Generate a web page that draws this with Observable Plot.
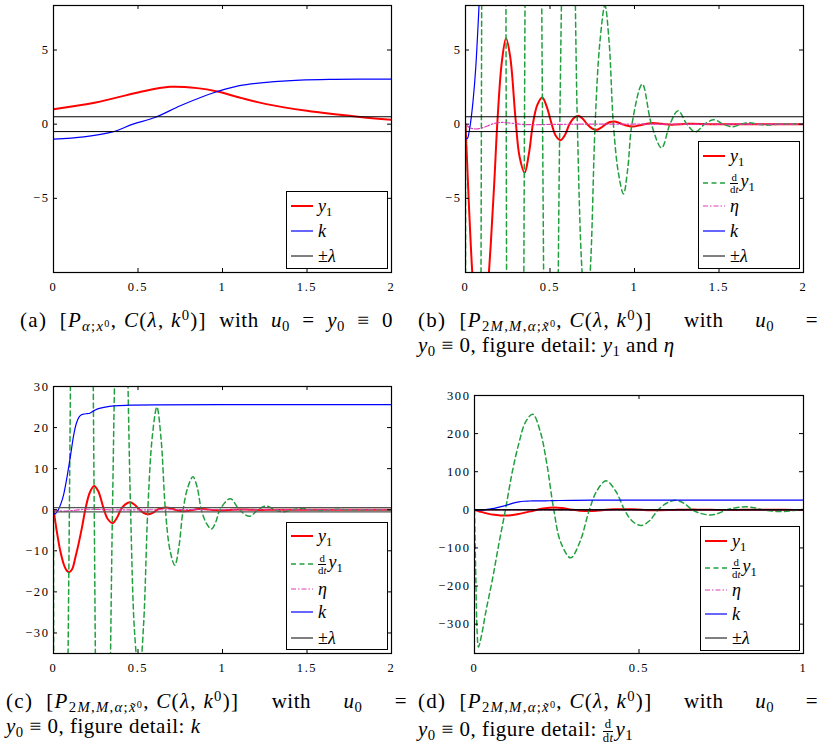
<!DOCTYPE html>
<html><head><meta charset="utf-8">
<script src="https://cdn.jsdelivr.net/npm/d3@7"></script>
<script src="https://cdn.jsdelivr.net/npm/@observablehq/plot@0.6"></script>
<style>
body{margin:0;background:#fff;}
#fig{position:relative;width:824px;height:748px;background:#fff;font-family:"Liberation Serif",serif;color:#000;overflow:hidden}
.panel{position:absolute}
.panel svg text{font-family:"Liberation Serif",serif !important;}
.cap{position:absolute;font-size:21px;line-height:24px;white-space:nowrap;letter-spacing:0.5px}
.just{text-align:justify;text-align-last:justify;white-space:normal}
.m{display:inline-block;white-space:nowrap;letter-spacing:1.3px}
.leg{position:absolute;border:1.3px solid #000;background:#fff;box-sizing:border-box}
.row{position:absolute;left:0;height:18px;line-height:18px;display:flex;align-items:center;font-size:18px;white-space:nowrap}
.row svg{margin-left:4px;margin-right:5px}
sub,sup{font-size:0.7em;line-height:0;position:relative;vertical-align:baseline;font-style:normal}
sub{top:0.3em} sup{top:-0.45em}
.frac{display:inline-flex;flex-direction:column;vertical-align:middle;font-size:0.6em;text-align:center;line-height:1;margin-right:2px}
.frac>span:first-child{border-bottom:1px solid #000}
</style>
</head><body><div id="fig"></div>
<script>
// ---------- data ----------
const lambdaLevels = [-0.5, 0.5];

// panel (a)
const aY1T = [0, 0.25, 0.5, 0.69, 0.85, 0.97, 1.1, 1.26, 1.5, 1.8, 2.0];
const aY1V = [1.01, 1.46, 2.14, 2.52, 2.43, 2.2, 1.8, 1.35, 0.9, 0.5, 0.29];
const aKT = [0, 0.18, 0.35, 0.47, 0.6, 0.75, 0.87, 0.97, 1.1, 1.26, 1.46, 1.66, 2.0];
const aKV = [-1.01, -0.86, -0.52, 0, 0.45, 1.24, 1.8, 2.2, 2.6, 2.82, 2.97, 3.02, 3.04];

// panels (b), (c), (d): same trajectories
const y1T = [0, 0.01, 0.02, 0.04, 0.06, 0.078, 0.093, 0.11, 0.13, 0.15, 0.17, 0.19, 0.215, 0.24, 0.265, 0.295, 0.32, 0.35, 0.375, 0.40, 0.425, 0.454, 0.48, 0.51, 0.535, 0.563, 0.59, 0.615, 0.64, 0.667, 0.695, 0.72, 0.75, 0.776, 0.80, 0.83, 0.855, 0.88, 0.91, 0.94, 0.99, 1.04, 1.1, 1.16, 1.22, 1.32, 1.45, 1.6, 2.0];
const y1V = [0, -2.7, -5.4, -10, -13.2, -14.8, -15.2, -14.5, -11.5, -8, -4, 0.4, 4.2, 5.8, 4.5, 0.5, -2.2, -3.27, -2, 0.1, 1.3, 1.8, 1.2, 0, -0.8, -1.08, -0.7, 0, 0.4, 0.56, 0.35, 0, -0.3, -0.38, -0.25, 0, 0.15, 0.18, 0.08, -0.05, -0.16, -0.05, 0.07, 0.02, -0.04, 0.02, 0, 0, 0];

const dy1T = [0, 0.004, 0.008, 0.012, 0.02, 0.035, 0.055, 0.075, 0.094, 0.115, 0.135, 0.155, 0.177, 0.2, 0.22, 0.241, 0.262, 0.292, 0.32, 0.349, 0.372, 0.40, 0.43, 0.456, 0.48, 0.507, 0.533, 0.558, 0.585, 0.612, 0.637, 0.662, 0.69, 0.718, 0.742, 0.767, 0.795, 0.825, 0.85, 0.875, 0.905, 0.935, 0.96, 0.985, 1.046, 1.1, 1.16, 1.21, 1.258, 1.31, 1.36, 1.415, 1.47, 1.525, 1.58, 1.63, 1.68, 1.73, 1.79, 1.85, 1.92, 2.0];
const dy1V = [0, -180, -320, -360, -335, -265, -180, -85, 0, 100, 175, 230, 251, 205, 120, 0, -85, -126, -85, 0, 50, 76, 48, 0, -30, -41, -28, 0, 18, 25, 17, 0, -10, -13.5, -9, 0, 5.5, 8, 5.5, 0, -3.3, -4.7, -3, 0, 2.7, 0, -1.6, 0, 0.9, 0, -0.52, 0, 0.3, 0, -0.18, 0, 0.1, 0, -0.05, 0, 0.02, 0];

const etaT = [0, 0.02, 0.05, 0.09, 0.13, 0.17, 0.21, 0.26, 0.32, 0.4, 0.5, 0.7, 1.0, 2.0];
const etaV = [0, -0.2, -0.32, -0.28, -0.12, 0.05, 0.12, 0.08, 0, -0.04, -0.02, 0, 0, 0];

const kT = [0, 0.012, 0.02, 0.03, 0.045, 0.06, 0.081, 0.1, 0.12, 0.135, 0.15, 0.165, 0.18, 0.2, 0.215, 0.235, 0.258, 0.298, 0.357, 0.456, 0.6, 1.0, 2.0];
const kV = [-1, -0.95, -0.6, 0.1, 1.6, 3.7, 8.2, 13, 18.3, 21, 22.5, 23.1, 23.3, 23.4, 23.5, 24, 24.5, 24.9, 25.3, 25.45, 25.55, 25.6, 25.6];

// ticks
const xTicks2 = [0, 0.5, 1, 1.5, 2];
const xTicks1 = [0, 0.5, 1];
const yTicksAB = [-5, 0, 5];
const yTicksC = [-30, -20, -10, 0, 10, 20, 30];
const yTicksD = [-300, -200, -100, 0, 100, 200, 300];

// ---------- helpers ----------
const zip = (T, V) => T.map((t, i) => ({t, v: V[i]}));
const STY = {
  y1:  {color: "#ff0000", width: 2,   dash: null},
  dy1: {color: "#22a040", width: 1.5, dash: "5,3.5"},
  eta: {color: "#e03cb4", width: 1.2, dash: "5,2,1.5,2"},
  k:   {color: "#0000ff", width: 1.2, dash: null},
  lam: {color: "#000000", width: 1,   dash: null}
};
const fmt = d => d < 0 ? "\u2212" + Math.abs(d) : String(d);
const fig = document.getElementById("fig");
const FONT = "'Liberation Serif', serif";

function makePanel(c) {
  const fw = c.width - c.ml - c.mr, fh = c.height - c.mt - c.mb;
  const marks = [];
  for (const s of c.series) {
    const st = STY[s.key];
    marks.push(Plot.line(s.data, {x: "t", y: "v", stroke: st.color, strokeWidth: st.width,
      strokeDasharray: st.dash, curve: "catmull-rom", clip: true}));
  }
  marks.push(Plot.ruleY(lambdaLevels, {stroke: c.lamColor || "#000", strokeWidth: c.lamWidth || 1}));
  marks.push(Plot.frame({stroke: "#000", strokeWidth: 1.2}));
  marks.push(Plot.tickX(c.xTicks, {x: d => d, insetTop: fh - 4, stroke: "#000"}));
  marks.push(Plot.tickX(c.xTicks, {x: d => d, insetBottom: fh - 4, stroke: "#000"}));
  marks.push(Plot.tickY(c.yTicks, {y: d => d, insetRight: fw - 4, stroke: "#000"}));
  marks.push(Plot.tickY(c.yTicks, {y: d => d, insetLeft: fw - 4, stroke: "#000"}));
  marks.push(Plot.axisX({ticks: c.xTicks, tickSize: 0, tickPadding: 10, tickFormat: fmt, label: null,
    fontFamily: FONT, fontSize: 12.5}));
  marks.push(Plot.axisY({ticks: c.yTicks, tickSize: 0, tickPadding: 4, tickFormat: fmt, label: null,
    fontFamily: FONT, fontSize: 12.5}));
  const svg = Plot.plot({
    width: c.width, height: c.height,
    marginLeft: c.ml, marginRight: c.mr, marginTop: c.mt, marginBottom: c.mb,
    x: {domain: c.xDomain}, y: {domain: c.yDomain},
    style: "font-family:'Liberation Serif',serif;font-size:12.5px;letter-spacing:1.6px;color:#000;background:transparent;overflow:visible;",
    marks
  });
  const wrap = document.createElement("div");
  wrap.className = "panel";
  wrap.style.left = c.left + "px"; wrap.style.top = c.top + "px";
  wrap.appendChild(svg);
  fig.appendChild(wrap);
}

const LBL = {
  y1: '<i>y</i><sub>1</sub>',
  dy1: '<span class="frac"><span>d</span><span>d<i>t</i></span></span><i>y</i><sub>1</sub>',
  eta: '<i>η</i>',
  k: '<i>k</i>',
  lam: '±<i>λ</i>'
};
function makeLegend(l) {
  const d = document.createElement("div");
  d.className = "leg";
  Object.assign(d.style, {left: l.left + "px", top: l.top + "px", width: l.width + "px", height: l.height + "px"});
  l.keys.forEach((key, i) => {
    const st = STY[key];
    const r = document.createElement("div");
    r.className = "row";
    r.style.top = (l.rows[i] - 9) + "px";
    r.innerHTML = `<svg width="22" height="6"><line x1="0" x2="22" y1="3" y2="3" stroke="${st.color}" stroke-width="${st.width}" ${st.dash ? `stroke-dasharray="${st.dash}"` : ""}/></svg><span>${LBL[key]}</span>`;
    d.appendChild(r);
  });
  fig.appendChild(d);
}
function cap(html, left, top, width, just) {
  const d = document.createElement("div");
  d.className = "cap" + (just ? " just" : "");
  Object.assign(d.style, {left: left + "px", top: top + "px", width: width + "px"});
  d.innerHTML = html;
  fig.appendChild(d);
}

// ---------- panels ----------
const seriesFull = [
  {key: "y1", data: zip(y1T, y1V)},
  {key: "dy1", data: zip(dy1T, dy1V)},
  {key: "eta", data: zip(etaT, etaV)},
  {key: "k", data: zip(kT, kV)}
];

makePanel({left: 0, top: 0, width: 412, height: 300, ml: 53, mr: 21, mt: 5, mb: 28,
  xDomain: [0, 2], yDomain: [-10, 8], xTicks: xTicks2, yTicks: yTicksAB,
  series: [{key: "y1", data: zip(aY1T, aY1V)}, {key: "k", data: zip(aKT, aKV)}]});
makePanel({left: 412, top: 0, width: 412, height: 300, ml: 53, mr: 21, mt: 5, mb: 28,
  xDomain: [0, 2], yDomain: [-10, 8], xTicks: xTicks2, yTicks: yTicksAB, series: seriesFull});
makePanel({left: 0, top: 370, width: 412, height: 312, ml: 53, mr: 21, mt: 16, mb: 29,
  xDomain: [0, 2], yDomain: [-35, 30], xTicks: xTicks2, yTicks: yTicksC, series: seriesFull,
  lamColor: "#555", lamWidth: 1.3});
makePanel({left: 412, top: 370, width: 412, height: 312, ml: 62, mr: 21, mt: 25, mb: 29,
  xDomain: [0, 1], yDomain: [-377, 300], xTicks: xTicks1, yTicks: yTicksD, series: seriesFull});

makeLegend({left: 286, top: 191, width: 102, height: 78, keys: ["y1", "k", "lam"], rows: [14, 39, 64]});
makeLegend({left: 698, top: 141, width: 102, height: 128, keys: ["y1", "dy1", "eta", "k", "lam"], rows: [14, 41, 64, 89, 114]});
makeLegend({left: 286, top: 522, width: 102, height: 128, keys: ["y1", "dy1", "eta", "k", "lam"], rows: [13, 41, 66, 89, 115]});
makeLegend({left: 700, top: 526, width: 100, height: 125, keys: ["y1", "dy1", "eta", "k", "lam"], rows: [14, 41, 63, 87, 111]});

// ---------- captions ----------
const sub0 = '<sub>0</sub>';
cap('<span class="m">(a)</span> <span class="m">[<i>P</i><sub><i>α</i>;<i>x</i><sup>0</sup></sub>, <i>C</i>(<i>λ</i>, <i>k</i><sup>0</sup>)]</span> with <i>u</i>' + sub0 + ' = <i>y</i>' + sub0 + ' ≡ 0', 20, 308, 373, true);
const line1 = (l) => `<span class="m">(${l})&nbsp;&nbsp;[<i>P</i><sub>2<i>M</i>,<i>M</i>,<i>α</i>;<i>x̃</i><sup>0</sup></sub>, <i>C</i>(<i>λ</i>, <i>k</i><sup>0</sup>)]</span> with <i>u</i>${sub0} =`;
cap(line1("b"), 418, 308, 400, true);
cap('<i>y</i>' + sub0 + ' ≡ 0, figure detail: <i>y</i><sub>1</sub> and <i>η</i>', 418, 333, 400, false);
cap(line1("c"), 6, 689, 401, true);
cap('<i>y</i>' + sub0 + ' ≡ 0, figure detail: <i>k</i>', 6, 714, 401, false);
cap(line1("d"), 418, 689, 400, true);
cap('<i>y</i>' + sub0 + ' ≡ 0, figure detail: <span class="frac"><span>d</span><span>d<i>t</i></span></span><i>y</i><sub>1</sub>', 418, 717, 400, false);
</script></body></html>
